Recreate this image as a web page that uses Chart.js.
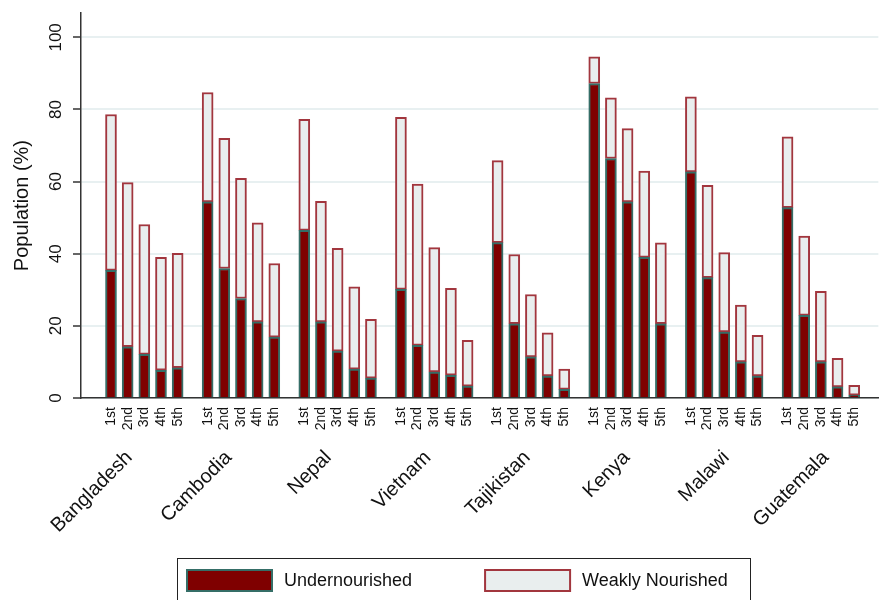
<!DOCTYPE html>
<html>
<head>
<meta charset="utf-8">
<script src="https://cdn.jsdelivr.net/npm/chart.js@4.4.0/dist/chart.umd.min.js"></script>
<style>
  html, body { margin: 0; padding: 0; background: #fff; }
  canvas { display: block; }
</style>
</head>
<body>
<canvas id="myChart" width="880" height="600"></canvas>
<script>
const countries = ['Bangladesh', 'Cambodia', 'Nepal', 'Vietnam', 'Tajikistan', 'Kenya', 'Malawi', 'Guatemala']
const quintiles = ['1st', '2nd', '3rd', '4th', '5th']

// % of population per wealth quintile, 5 values per country
const undernourished = [
  35.4, 14.2, 12.1, 7.7, 8.4, // Bangladesh
  54.4, 35.9, 27.6, 21.1, 16.9, // Cambodia
  46.5, 21.1, 13.0, 8.0, 5.5, // Nepal
  30.1, 14.6, 7.2, 6.3, 3.3, // Vietnam
  43.1, 20.6, 11.4, 6.1, 2.4, // Tajikistan
  87.2, 66.4, 54.4, 39.0, 20.6, // Kenya
  62.7, 33.4, 18.3, 10.0, 6.1, // Malawi
  52.8, 22.9, 10.0, 3.1, 0.8 // Guatemala
]
const weaklyNourished = [
  43.2, 45.5, 36.0, 31.3, 31.7,
  30.3, 36.1, 33.3, 27.5, 20.4,
  30.8, 33.4, 28.5, 22.8, 16.3,
  47.7, 44.7, 34.5, 24.1, 12.7,
  22.7, 19.2, 17.3, 12.0, 5.6,
  7.4, 16.8, 20.3, 23.9, 22.4,
  20.8, 25.6, 22.0, 15.8, 11.3,
  19.6, 22.0, 19.6, 7.9, 2.7
]
const yTicks = [0, 20, 40, 60, 80, 100]

const groupStep = 5.8 // 5 bars + gap, in bar slots
const barPos = undernourished.map((_, i) => Math.floor(i / 5) * groupStep + (i % 5))
// country labels sit a bit wider apart than the groups (as in the original)
const labelPos = countries.map((_, g) => g * 5.97 + 1.1)

const fontFamily = '"Liberation Sans", Arial, sans-serif'
Chart.defaults.font.family = fontFamily
Chart.defaults.color = '#111'

// legend in a frame, like the original
const framedLegend = {
  id: 'framedLegend',
  afterDraw(chart) {
    const ctx = chart.ctx
    const left = 177
    const top = 558
    ctx.save()
    ctx.strokeStyle = '#222'
    ctx.lineWidth = 1
    ctx.strokeRect(left + 0.5, top + 0.5, 573, 60)
    ctx.font = '18px ' + fontFamily
    ctx.textBaseline = 'middle'
    let x = left + 9
    chart.data.datasets.forEach(ds => {
      ctx.fillStyle = ds.backgroundColor
      ctx.fillRect(x, top + 11, 87, 23)
      ctx.strokeStyle = ds.borderColor
      ctx.lineWidth = 2
      ctx.strokeRect(x + 1, top + 12, 85, 21)
      ctx.fillStyle = '#111'
      ctx.fillText(ds.label, x + 98, top + 23)
      x += 98 + ctx.measureText(ds.label).width + 72
    })
    ctx.restore()
  }
}

const ctx = document.getElementById('myChart').getContext('2d')

const myChart = new Chart(ctx, {
  type: 'bar',
  data: {
    datasets: [{
      label: 'Undernourished',
      data: undernourished.map((v, i) => ({ x: barPos[i], y: v })),
      backgroundColor: '#7f0000',
      borderColor: '#356e67',
      borderWidth: 2,
      barThickness: 11,
    }, {
      label: 'Weakly Nourished',
      data: weaklyNourished.map((v, i) => ({ x: barPos[i], y: v })),
      backgroundColor: '#e9eeee',
      borderColor: '#a2363e',
      borderWidth: 2,
      borderSkipped: false,
      barThickness: 11,
    }],
  },
  options: {
    responsive: false,
    animation: false,
    layout: { padding: { top: 13, left: 0, right: 0, bottom: 0 } },
    scales: {
      x: {
        type: 'linear',
        stacked: true,
        offset: false,
        min: -1.8,
        max: 46.05,
        weight: 0,
        afterBuildTicks: s => { s.ticks = barPos.map(v => ({ value: v })) },
        afterFit: s => { s.height = 36 },
        grid: { display: false, offset: false, drawTicks: false },
        border: { color: '#333', width: 1.5 },
        ticks: {
          autoSkip: false,
          minRotation: 90,
          maxRotation: 90,
          padding: 9,
          font: { size: 14 },
          callback: (v, i) => quintiles[i % 5],
        },
      },
      x2: {
        type: 'linear',
        position: 'bottom',
        offset: false,
        min: -1.8,
        max: 46.05,
        weight: 1,
        afterBuildTicks: s => { s.ticks = labelPos.map(v => ({ value: v })) },
        afterFit: s => { s.height = 166 },
        grid: { display: false, offset: false, drawTicks: false },
        border: { display: false },
        ticks: {
          autoSkip: false,
          minRotation: 45,
          maxRotation: 45,
          padding: 12,
          font: { size: 20 },
          callback: (v, i) => countries[i],
        },
      },
      y: {
        stacked: true,
        min: 0,
        max: 106.7,
        afterBuildTicks: s => { s.ticks = yTicks.map(v => ({ value: v })) },
        afterFit: s => { s.width = 81 },
        grid: { color: '#e8f0f1', lineWidth: 2, tickColor: '#333', tickLength: 8, tickWidth: 1.5 },
        border: { color: '#333', width: 1.5 },
        ticks: { minRotation: 90, maxRotation: 90, crossAlign: 'center', padding: 3, font: { size: 17 } },
        title: { display: true, text: 'Population (%)', font: { size: 20 }, padding: { top: 10, bottom: 0 } },
      },
    },
    plugins: {
      legend: { display: false },
      tooltip: { enabled: false },
    },
  },
  plugins: [framedLegend],
})
</script>
</body>
</html>
